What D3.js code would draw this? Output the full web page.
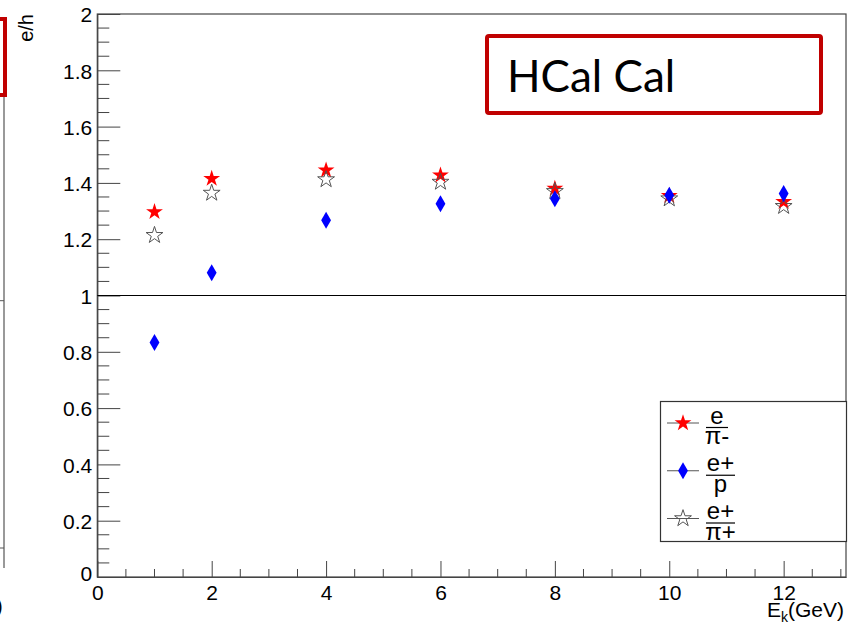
<!DOCTYPE html>
<html>
<head>
<meta charset="utf-8">
<script src="https://cdn.jsdelivr.net/npm/d3@7"></script>
<style>
  body { margin: 0; background: #fff; }
  svg { display: block; font-family: 'Liberation Sans', Arial, sans-serif; }
</style>
</head>
<body>
<svg id="chart" width="848" height="629"></svg>
<script>
// beam energies (GeV)
const energies = [1, 2, 4, 6, 8, 10, 12]
// e/h ratios
const ePiMinus = [1.297, 1.415, 1.445, 1.427, 1.380, 1.354, 1.333]
const ePlusP = [0.833, 1.081, 1.267, 1.326, 1.344, 1.356, 1.362]
const ePiPlus = [1.214, 1.364, 1.412, 1.403, 1.370, 1.344, 1.317]

const xTicks = [0, 2, 4, 6, 8, 10, 12]
const yTicks = [0, 0.2, 0.4, 0.6, 0.8, 1, 1.2, 1.4, 1.6, 1.8, 2]

const legendRows = [
  { num: 'e', den: 'π-', kind: 'red' },
  { num: 'e+', den: 'p', kind: 'blue' },
  { num: 'e+', den: 'π+', kind: 'open' }
]

const margin = { top: 14, right: 2, bottom: 52, left: 97.3 }
const width = 848 - margin.left - margin.right
const height = 629 - margin.top - margin.bottom

const svg = d3.select('#chart')

// pieces of the neighbouring panel cut off at the left edge
svg.append('line')
  .attr('x1', 4).attr('x2', 4).attr('y1', 17).attr('y2', 568)
  .attr('stroke', '#555').attr('stroke-width', 1.2)
svg.selectAll('.lefttick')
  .data([300.7, 548])
  .enter()
  .append('line')
  .attr('x1', 0).attr('x2', 4)
  .attr('y1', d => d).attr('y2', d => d)
  .attr('stroke', '#555')
svg.append('rect')
  .attr('x', -100).attr('y', 19).attr('width', 105).attr('height', 76)
  .attr('fill', '#fff').attr('stroke', '#c00000').attr('stroke-width', 4)
svg.append('text')
  .attr('x', -4).attr('y', 613)
  .attr('font-size', 20)
  .text(')')

const g = svg.append('g')
  .attr('transform', 'translate(' + margin.left + ',' + margin.top + ')')

const xScale = d3.scaleLinear()
  .domain([0, 13.09])
  .range([0, width])

const yScale = d3.scaleLinear()
  .domain([0, 2])
  .range([height, 0])

// frame
g.append('rect')
  .attr('width', width).attr('height', height)
  .attr('fill', 'none').attr('stroke', '#444').attr('stroke-width', 1.2)

// minor ticks
const xMinor = d3.range(0.5, 13.01, 0.5).filter(v => v % 2 !== 0)
const yMinor = d3.range(0.05, 2, 0.05).filter(v => Math.abs(v / 0.2 - Math.round(v / 0.2)) > 0.01)

g.append('g')
  .selectAll('line')
  .data(xMinor)
  .enter()
  .append('line')
  .attr('x1', d => xScale(d)).attr('x2', d => xScale(d))
  .attr('y1', height).attr('y2', height - 8)
  .attr('stroke', '#444')

g.append('g')
  .selectAll('line')
  .data(yMinor)
  .enter()
  .append('line')
  .attr('x1', 0).attr('x2', 12)
  .attr('y1', d => yScale(d)).attr('y2', d => yScale(d))
  .attr('stroke', '#444')

// axes with ticks pointing into the frame
const xAxis = d3.axisBottom(xScale)
  .tickValues(xTicks)
  .tickSizeInner(-16)
  .tickSizeOuter(0)
  .tickPadding(8)

const yAxis = d3.axisLeft(yScale)
  .tickValues(yTicks)
  .tickFormat(d3.format('~g'))
  .tickSizeInner(-23)
  .tickSizeOuter(0)
  .tickPadding(5)

const gx = g.append('g')
  .attr('transform', 'translate(0,' + height + ')')
  .call(xAxis)
gx.select('.domain').attr('stroke', '#444').attr('stroke-width', 1.2)
gx.selectAll('.tick line').attr('stroke', '#444')
gx.selectAll('.tick text')
  .attr('font-size', 21).attr('fill', '#000')
  .attr('font-family', 'Liberation Sans, Arial, sans-serif')

const gy = g.append('g').call(yAxis)
gy.select('.domain').attr('stroke', '#444').attr('stroke-width', 1.2)
gy.selectAll('.tick line').attr('stroke', '#444')
gy.selectAll('.tick text')
  .attr('font-size', 21).attr('fill', '#000')
  .attr('font-family', 'Liberation Sans, Arial, sans-serif')
  .attr('dy', d => d === 0 ? '0.15em' : '0.37em')

// reference line at e/h = 1
g.append('line')
  .attr('x1', 0).attr('x2', width)
  .attr('y1', yScale(1)).attr('y2', yScale(1))
  .attr('stroke', '#000').attr('stroke-width', 1)

// axis titles
const xTitle = svg.append('text')
  .attr('x', 844).attr('y', 617)
  .attr('text-anchor', 'end')
  .attr('font-size', 21)
xTitle.append('tspan').text('E')
xTitle.append('tspan').attr('font-size', 14).attr('dy', 5).text('k')
xTitle.append('tspan').attr('dy', -5).text('(GeV)')

svg.append('text')
  .attr('transform', 'translate(33,14) rotate(-90)')
  .attr('text-anchor', 'end')
  .attr('font-size', 20)
  .text('e/h')

// markers
const starPath = d3.symbol().type(d3.symbolStar).size(88)()
const diamondPath = d3.symbol().type(d3.symbolDiamond).size(84)()

const drawMarker = (sel, kind) => {
  if (kind === 'red') {
    sel.attr('d', starPath).attr('fill', '#ff0000')
  } else if (kind === 'blue') {
    sel.attr('d', diamondPath).attr('fill', '#0000ff')
  } else {
    sel.attr('d', starPath).attr('fill', 'none')
      .attr('stroke', '#555').attr('stroke-width', 1)
  }
}

const series = [
  { kind: 'red', values: ePiMinus },
  { kind: 'open', values: ePiPlus },
  { kind: 'blue', values: ePlusP }
]

series.forEach(s => {
  g.append('g')
    .selectAll('path')
    .data(s.values)
    .enter()
    .append('path')
    .attr('transform', (d, i) => 'translate(' + xScale(energies[i]) + ',' + yScale(d) + ')')
    .call(drawMarker, s.kind)
})

// HCal Cal label box
svg.append('rect')
  .attr('x', 487).attr('y', 36).attr('width', 334).attr('height', 77)
  .attr('rx', 2)
  .attr('fill', '#fff').attr('stroke', '#c00000').attr('stroke-width', 4)
svg.append('text')
  .attr('x', 507).attr('y', 92)
  .attr('font-family', 'Lato, sans-serif')
  .attr('font-size', 44)
  .text('HCal Cal')

// legend
const legend = svg.append('g')
legend.append('rect')
  .attr('x', 660.5).attr('y', 401.5).attr('width', 186).attr('height', 140)
  .attr('fill', '#fff').attr('stroke', '#333').attr('stroke-width', 1.2)

const rowY = d3.scalePoint()
  .domain(legendRows.map(d => d.kind))
  .range([423, 518.5])

const rows = legend.selectAll('.row')
  .data(legendRows)
  .enter()
  .append('g')
  .attr('transform', d => 'translate(0,' + rowY(d.kind) + ')')

rows.append('line')
  .attr('x1', 667).attr('x2', 699)
  .attr('stroke', '#555').attr('stroke-width', 1)
rows.append('path')
  .attr('transform', 'translate(683,0)')
  .each(function (d) { d3.select(this).call(drawMarker, d.kind) })

rows.append('line')
  .attr('x1', 706).attr('x2', d => d.num === 'e' ? 728 : 735)
  .attr('y1', 4.5).attr('y2', 4.5)
  .attr('stroke', '#000').attr('stroke-width', 1.2)
rows.append('text')
  .attr('x', d => d.num === 'e' ? 717 : 720.5)
  .attr('y', 0.5)
  .attr('text-anchor', 'middle')
  .attr('font-size', 24)
  .text(d => d.num)
rows.append('text')
  .attr('x', d => d.num === 'e' ? 717 : 720.5)
  .attr('y', 21)
  .attr('text-anchor', 'middle')
  .attr('font-size', 24)
  .text(d => d.den)
</script>
</body>
</html>
